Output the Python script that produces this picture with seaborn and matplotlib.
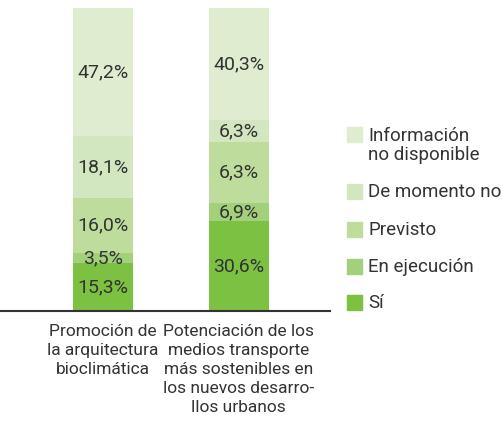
import numpy as np
import pandas as pd
import matplotlib
matplotlib.use("Agg")
import matplotlib.pyplot as plt
import seaborn as sns
from matplotlib.patches import Rectangle

categories = ["Promoción de\nla arquitectura\nbioclimática",
              "Potenciación de los\nmedios transporte\nmás sostenibles en\nlos nuevos desarro-\nllos urbanos"]
series = ["Sí", "En ejecución", "Previsto", "De momento no", "Información\nno disponible"]
# segment heights as drawn in the picture (percent of bar)
heights = {
    "Sí": [15.8, 29.7],
    "En ejecución": [3.3, 5.9],
    "Previsto": [18.2, 20.1],
    "De momento no": [20.5, 7.3],
    "Información\nno disponible": [42.2, 37.0],
}
# printed labels
labels = {
    "Sí": ["15,3%", "30,6%"],
    "En ejecución": ["3,5%", "6,9%"],
    "Previsto": ["16,0%", "6,3%"],
    "De momento no": ["18,1%", "6,3%"],
    "Información\nno disponible": ["47,2%", "40,3%"],
}
colors = ["#7cc142", "#a3d17b", "#bedd9d", "#d2e7bf", "#dfecd0"]

sns.set_theme(style="white")
plt.rcParams["font.family"] = ["Roboto", "DejaVu Sans"]

fig = plt.figure(figsize=(5.01, 4.25), dpi=100)
ax = fig.add_axes([0, 114 / 425, 330 / 501, 303 / 425])

cum = np.cumsum(np.array([heights[s] for s in series]), axis=0)
# draw from the top segment down so lower ones cover the upper ones
for i in range(len(series) - 1, -1, -1):
    df = pd.DataFrame({"cat": [0, 1], "val": cum[i]})
    sns.barplot(data=df, x="cat", y="val", color=colors[i], width=0.443,
                saturation=1, ax=ax, native_scale=True, errorbar=None,
                linewidth=0)

for i, s in enumerate(series):
    lo = cum[i - 1] if i > 0 else np.zeros(2)
    for j in range(2):
        ax.text(j, (lo[j] + cum[i][j]) / 2, labels[s][j], ha="center", va="center",
                fontsize=14, color="#333333")

total = cum[-1].max()
ax.set_ylim(0, total)
ax.set_xlim(-0.760, 1.675)
ax.set_xticks([0, 1])
ax.set_xticklabels(categories, fontsize=12.5, color="#333333", linespacing=1.35)
ax.tick_params(axis="x", length=0, pad=9)
ax.set_yticks([])
ax.set_xlabel("")
ax.set_ylabel("")
for sp in ["top", "right", "left"]:
    ax.spines[sp].set_visible(False)
ax.spines["bottom"].set_color("#333333")
ax.spines["bottom"].set_linewidth(1.5)

# legend
leg_y = [135, 191, 229, 266, 302]
leg_order = list(range(len(series) - 1, -1, -1))
for y, i in zip(leg_y, leg_order):
    fig.patches.append(Rectangle((347 / 501, 1 - (y + 7.5) / 425), 15 / 501, 15 / 425,
                                 transform=fig.transFigure, color=colors[i]))
    fig.text(368 / 501, 1 - (y - 8) / 425, series[i], ha="left", va="top",
             fontsize=13.5, color="#333333", linespacing=1.05)

fig.savefig("out.png", dpi=100)
